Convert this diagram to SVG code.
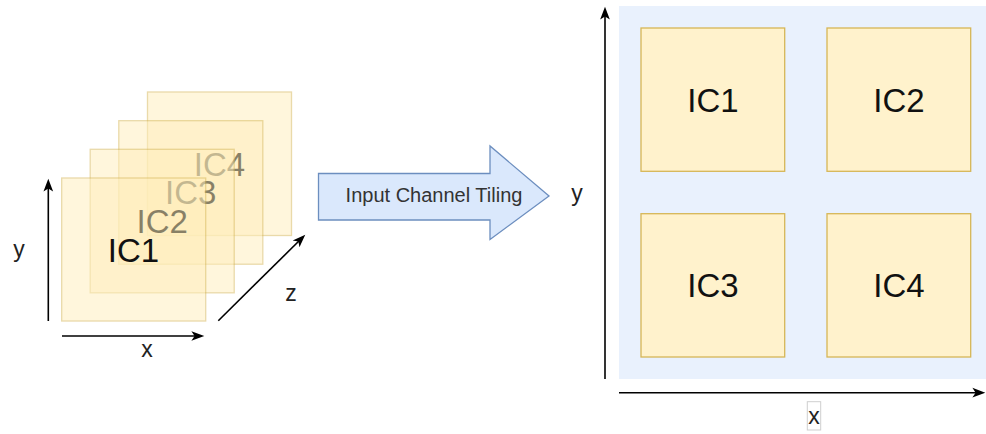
<svg xmlns="http://www.w3.org/2000/svg" width="986" height="434" viewBox="0 0 986 434">
  <style>
    .tile { fill: #fff2cc; stroke: #d6b656; stroke-width: 1.3; }
    .sheet { fill: #ffeebb; stroke: #d6b656; stroke-width: 1.3; opacity: 0.5; }
    .ic { font-family: "Liberation Sans", Arial, sans-serif; font-size: 33px; fill: #111; text-anchor: middle; }
    .axis { stroke: #000; stroke-width: 1.6; fill: none; }
    .lbl { font-family: "Liberation Sans", Arial, sans-serif; font-size: 23px; fill: #222; text-anchor: middle; }
    .bg { fill: #dae8fc; opacity: 0.6; }
  </style>
  <defs>
    <marker id="head" markerUnits="userSpaceOnUse" markerWidth="14" markerHeight="12" viewBox="0 0 13 10" refX="8" refY="5" orient="auto">
      <path d="M0,0.5 L12,5 L0,9.5 L3,5 Z" fill="#000"/>
    </marker>
  </defs>

  <!-- stacked input channels (back to front), translucent sheets -->
  <g id="stack-ic4">
    <rect class="sheet" x="147.5" y="92" width="144" height="143.5"/>
    <text class="ic" x="219.5" y="175.5">IC4</text>
  </g>
  <g id="stack-ic3">
    <rect class="sheet" x="118.8" y="120.7" width="144" height="143.5"/>
    <text class="ic" x="190.8" y="204">IC3</text>
  </g>
  <g id="stack-ic2">
    <rect class="sheet" x="90.2" y="149.3" width="144" height="143.5"/>
    <text class="ic" x="162.2" y="232.7">IC2</text>
  </g>
  <g id="stack-ic1">
    <rect class="sheet" x="61.7" y="178" width="144" height="143"/>
    <text class="ic" x="133.5" y="261.5">IC1</text>
  </g>

  <!-- transformation arrow -->
  <g id="tiling-arrow">
    <polygon points="318.5,173.5 490,173.5 490,146 549,196 490,239.5 490,220 318.5,220" fill="#dae8fc" stroke="#6c8ebf" stroke-width="1.3"/>
    <text x="434" y="202" font-family="Liberation Sans, Arial, sans-serif" font-size="20" fill="#333" text-anchor="middle">Input Channel Tiling</text>
  </g>

  <!-- tiled layout -->
  <g id="tiled-plane">
    <rect class="bg" x="619" y="6" width="187" height="186"/>
    <rect class="bg" x="806" y="6" width="180" height="186"/>
    <rect class="bg" x="619" y="192" width="187" height="187"/>
    <rect class="bg" x="806" y="192" width="180" height="187"/>
  </g>
  <g id="tile-ic1">
    <rect class="tile" x="641" y="28" width="143.7" height="143.3"/>
    <text class="ic" x="713" y="111.5">IC1</text>
  </g>
  <g id="tile-ic2">
    <rect class="tile" x="827" y="28" width="143.7" height="143.3"/>
    <text class="ic" x="899" y="111.5">IC2</text>
  </g>
  <g id="tile-ic3">
    <rect class="tile" x="641" y="213.7" width="143.7" height="143.3"/>
    <text class="ic" x="713" y="297">IC3</text>
  </g>
  <g id="tile-ic4">
    <rect class="tile" x="827" y="213.7" width="143.7" height="143.3"/>
    <text class="ic" x="899" y="297">IC4</text>
  </g>

  <!-- axes -->
  <g id="connectors">
    <line class="axis" x1="48.3" y1="321" x2="48.3" y2="183" marker-end="url(#head)"/>
    <line class="axis" x1="62" y1="336" x2="200" y2="336" marker-end="url(#head)"/>
    <line class="axis" x1="218.3" y1="320.7" x2="302.2" y2="237.8" marker-end="url(#head)"/>
    <line class="axis" x1="605" y1="379" x2="605" y2="11" marker-end="url(#head)"/>
    <line class="axis" x1="619" y1="392.7" x2="981" y2="392.7" marker-end="url(#head)"/>
  </g>

  <!-- axis labels -->
  <g id="labels">
    <text class="lbl" x="19" y="257">y</text>
    <text class="lbl" x="147" y="357">x</text>
    <text class="lbl" x="291" y="301">z</text>
    <text class="lbl" x="577" y="201">y</text>
    <rect x="807.3" y="401.7" width="13.4" height="28.3" fill="#fff" stroke="#cfcfcf" stroke-width="1"/>
    <text class="lbl" x="814" y="423.5">x</text>
  </g>
</svg>
